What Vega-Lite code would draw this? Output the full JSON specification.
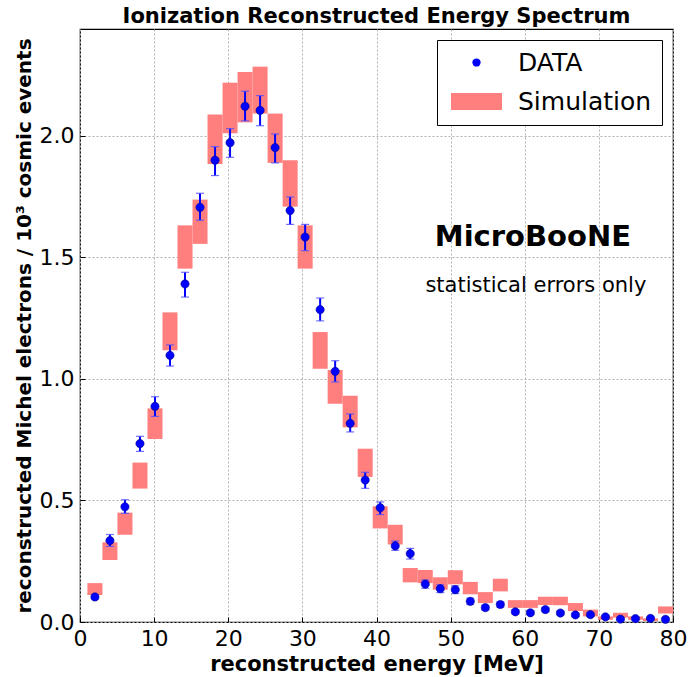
{
  "$schema": "https://vega.github.io/schema/vega-lite/v6.json",
  "autosize": "none",
  "width": 593,
  "height": 593,
  "padding": {"left": 80, "top": 29, "right": 16, "bottom": 55},
  "config": {
    "font": "DejaVu Sans",
    "view": {"stroke": "#000000", "strokeWidth": 1.2},
    "axis": {
      "labelFont": "DejaVu Sans", "labelFontSize": 22, "labelColor": "#000000", "labelFlush": false,
      "titleFont": "DejaVu Sans", "titleFontSize": 21, "titleFontWeight": "bold", "titleColor": "#000000",
      "grid": true, "gridColor": "#b0b0b0", "gridDash": [2, 2], "gridWidth": 1,
      "domain": false, "ticks": true, "tickSize": -5, "tickColor": "#000000", "tickWidth": 1, "labelPadding": 11
    }
  },
  "title": {"text": "Ionization Reconstructed Energy Spectrum", "font": "DejaVu Sans", "fontSize": 21, "fontWeight": "bold", "color": "#000000", "offset": 2},
  "data": {"values": [
    {"x0": 1.000, "x1": 3.026, "x": 2.013, "y": 0.103, "ylo": 0.094, "yhi": 0.112, "slo": 0.111, "shi": 0.160},
    {"x0": 3.026, "x1": 5.051, "x": 4.038, "y": 0.335, "ylo": 0.311, "yhi": 0.360, "slo": 0.255, "shi": 0.328},
    {"x0": 5.051, "x1": 7.077, "x": 6.064, "y": 0.474, "ylo": 0.447, "yhi": 0.503, "slo": 0.359, "shi": 0.450},
    {"x0": 7.077, "x1": 9.103, "x": 8.090, "y": 0.734, "ylo": 0.702, "yhi": 0.764, "slo": 0.549, "shi": 0.656},
    {"x0": 9.103, "x1": 11.128, "x": 10.115, "y": 0.887, "ylo": 0.846, "yhi": 0.927, "slo": 0.753, "shi": 0.879},
    {"x0": 11.128, "x1": 13.154, "x": 12.141, "y": 1.097, "ylo": 1.053, "yhi": 1.140, "slo": 1.118, "shi": 1.274},
    {"x0": 13.154, "x1": 15.179, "x": 14.167, "y": 1.391, "ylo": 1.337, "yhi": 1.439, "slo": 1.454, "shi": 1.632},
    {"x0": 15.179, "x1": 17.205, "x": 16.192, "y": 1.706, "ylo": 1.653, "yhi": 1.764, "slo": 1.556, "shi": 1.738},
    {"x0": 17.205, "x1": 19.231, "x": 18.218, "y": 1.900, "ylo": 1.837, "yhi": 1.956, "slo": 1.885, "shi": 2.088},
    {"x0": 19.231, "x1": 21.256, "x": 20.244, "y": 1.972, "ylo": 1.912, "yhi": 2.030, "slo": 2.011, "shi": 2.219},
    {"x0": 21.256, "x1": 23.282, "x": 22.269, "y": 2.122, "ylo": 2.062, "yhi": 2.184, "slo": 2.056, "shi": 2.263},
    {"x0": 23.282, "x1": 25.308, "x": 24.295, "y": 2.105, "ylo": 2.042, "yhi": 2.166, "slo": 2.092, "shi": 2.285},
    {"x0": 25.308, "x1": 27.333, "x": 26.321, "y": 1.952, "ylo": 1.889, "yhi": 2.008, "slo": 1.889, "shi": 2.092},
    {"x0": 27.333, "x1": 29.359, "x": 28.346, "y": 1.693, "ylo": 1.636, "yhi": 1.749, "slo": 1.709, "shi": 1.900},
    {"x0": 29.359, "x1": 31.385, "x": 30.372, "y": 1.584, "ylo": 1.528, "yhi": 1.636, "slo": 1.454, "shi": 1.632},
    {"x0": 31.385, "x1": 33.410, "x": 32.397, "y": 1.285, "ylo": 1.239, "yhi": 1.333, "slo": 1.042, "shi": 1.193},
    {"x0": 33.410, "x1": 35.436, "x": 34.423, "y": 1.031, "ylo": 0.988, "yhi": 1.075, "slo": 0.898, "shi": 1.037},
    {"x0": 35.436, "x1": 37.462, "x": 36.449, "y": 0.817, "ylo": 0.782, "yhi": 0.856, "slo": 0.801, "shi": 0.931},
    {"x0": 37.462, "x1": 39.487, "x": 38.474, "y": 0.584, "ylo": 0.550, "yhi": 0.616, "slo": 0.597, "shi": 0.713},
    {"x0": 39.487, "x1": 41.513, "x": 40.500, "y": 0.470, "ylo": 0.442, "yhi": 0.494, "slo": 0.385, "shi": 0.476},
    {"x0": 41.513, "x1": 43.538, "x": 42.526, "y": 0.313, "ylo": 0.295, "yhi": 0.333, "slo": 0.319, "shi": 0.400},
    {"x0": 43.538, "x1": 45.564, "x": 44.551, "y": 0.281, "ylo": 0.259, "yhi": 0.303, "slo": 0.163, "shi": 0.222},
    {"x0": 45.564, "x1": 47.590, "x": 46.577, "y": 0.156, "ylo": 0.139, "yhi": 0.173, "slo": 0.160, "shi": 0.214},
    {"x0": 47.590, "x1": 49.615, "x": 48.603, "y": 0.137, "ylo": 0.121, "yhi": 0.153, "slo": 0.133, "shi": 0.184},
    {"x0": 49.615, "x1": 51.641, "x": 50.628, "y": 0.133, "ylo": 0.117, "yhi": 0.149, "slo": 0.155, "shi": 0.213},
    {"x0": 51.641, "x1": 53.667, "x": 52.654, "y": 0.085, "ylo": 0.072, "yhi": 0.098, "slo": 0.114, "shi": 0.165},
    {"x0": 53.667, "x1": 55.692, "x": 54.679, "y": 0.059, "ylo": 0.049, "yhi": 0.069, "slo": 0.078, "shi": 0.123},
    {"x0": 55.692, "x1": 57.718, "x": 56.705, "y": 0.072, "ylo": 0.061, "yhi": 0.083, "slo": 0.126, "shi": 0.178},
    {"x0": 57.718, "x1": 59.744, "x": 58.731, "y": 0.042, "ylo": 0.034, "yhi": 0.050, "slo": 0.058, "shi": 0.090},
    {"x0": 59.744, "x1": 61.769, "x": 60.756, "y": 0.038, "ylo": 0.030, "yhi": 0.046, "slo": 0.058, "shi": 0.090},
    {"x0": 61.769, "x1": 63.795, "x": 62.782, "y": 0.051, "ylo": 0.042, "yhi": 0.060, "slo": 0.070, "shi": 0.104},
    {"x0": 63.795, "x1": 65.821, "x": 64.808, "y": 0.037, "ylo": 0.029, "yhi": 0.045, "slo": 0.069, "shi": 0.104},
    {"x0": 65.821, "x1": 67.846, "x": 66.833, "y": 0.029, "ylo": 0.022, "yhi": 0.036, "slo": 0.045, "shi": 0.078},
    {"x0": 67.846, "x1": 69.872, "x": 68.859, "y": 0.030, "ylo": 0.023, "yhi": 0.037, "slo": 0.023, "shi": 0.051},
    {"x0": 69.872, "x1": 71.897, "x": 70.885, "y": 0.021, "ylo": 0.015, "yhi": 0.027, "slo": 0.009, "shi": 0.023},
    {"x0": 71.897, "x1": 73.923, "x": 72.910, "y": 0.012, "ylo": 0.007, "yhi": 0.017, "slo": 0.018, "shi": 0.038},
    {"x0": 73.923, "x1": 75.949, "x": 74.936, "y": 0.014, "ylo": 0.009, "yhi": 0.019, "slo": 0.009, "shi": 0.023},
    {"x0": 75.949, "x1": 77.974, "x": 76.962, "y": 0.015, "ylo": 0.010, "yhi": 0.020, "slo": 0.004, "shi": 0.015},
    {"x0": 77.974, "x1": 80.000, "x": 78.987, "y": 0.011, "ylo": 0.006, "yhi": 0.016, "slo": 0.035, "shi": 0.064}
  ]},
  "layer": [
    {
      "mark": {"type": "rect", "fill": "#ff7f7f", "stroke": null},
      "encoding": {
        "x": {"field": "x0", "type": "quantitative", "scale": {"domain": [0, 80], "nice": false, "zero": false}, "axis": {"title": "reconstructed energy [MeV]", "values": [0, 10, 20, 30, 40, 50, 60, 70, 80], "format": "d", "titlePadding": 4}},
        "x2": {"field": "x1"},
        "y": {"field": "slo", "type": "quantitative", "scale": {"domain": [0, 2.44], "nice": false}, "axis": {"title": "reconstructed Michel electrons / 10³  cosmic events", "titleFontSize": 20, "values": [0, 0.5, 1, 1.5, 2], "format": ".1f", "titlePadding": 5}},
        "y2": {"field": "shi"},
        "color": {"datum": "Simulation", "type": "nominal", "scale": {"domain": ["DATA", "Simulation"], "range": ["#0000ff", "#ff7f7f"]},
          "legend": {
            "title": null, "orient": "top-right", "offset": 11,
            "strokeColor": "#000000", "fillColor": "#ffffff", "padding": 10,
            "labelFont": "DejaVu Sans", "labelFontSize": 25, "labelColor": "#000000",
            "symbolOffset": 17, "labelOffset": 29, "rowPadding": 13,
            "symbolStrokeWidth": 0, "symbolOpacity": 1
          }
        }
      }
    },
    {
      "mark": {"type": "rule", "color": "#0000ff", "strokeWidth": 2},
      "encoding": {
        "x": {"field": "x", "type": "quantitative"},
        "y": {"field": "ylo", "type": "quantitative"},
        "y2": {"field": "yhi"}
      }
    },
    {
      "mark": {"type": "tick", "orient": "horizontal", "color": "#4d4dff", "size": 8, "thickness": 1.2, "opacity": 0.8},
      "encoding": {
        "x": {"field": "x", "type": "quantitative"},
        "y": {"field": "ylo", "type": "quantitative"}
      }
    },
    {
      "mark": {"type": "tick", "orient": "horizontal", "color": "#4d4dff", "size": 8, "thickness": 1.2, "opacity": 0.8},
      "encoding": {
        "x": {"field": "x", "type": "quantitative"},
        "y": {"field": "yhi", "type": "quantitative"}
      }
    },
    {
      "mark": {"type": "point", "filled": true, "stroke": "#00008b", "strokeWidth": 0.6, "opacity": 1},
      "encoding": {
        "x": {"field": "x", "type": "quantitative"},
        "y": {"field": "y", "type": "quantitative"},
        "color": {"datum": "DATA", "type": "nominal"},
        "shape": {"datum": "DATA", "type": "nominal", "scale": {"domain": ["DATA", "Simulation"], "range": ["circle", "M-3,-1L3,-1L3,1L-3,1Z"]}},
        "size": {"datum": "DATA", "type": "nominal", "scale": {"domain": ["DATA", "Simulation"], "range": [68, 289]}}
      }
    },
    {
      "data": {"values": [{}]},
      "mark": {"type": "text", "text": "MicroBooNE", "font": "DejaVu Sans", "fontSize": 29, "fontWeight": "bold", "color": "#000000", "align": "center", "baseline": "middle"},
      "encoding": {"x": {"datum": 61.1}, "y": {"datum": 1.586}}
    },
    {
      "data": {"values": [{}]},
      "mark": {"type": "text", "text": "statistical errors only", "font": "DejaVu Sans", "fontSize": 21, "color": "#000000", "align": "center", "baseline": "middle"},
      "encoding": {"x": {"datum": 61.5}, "y": {"datum": 1.384}}
    }
  ]
}
